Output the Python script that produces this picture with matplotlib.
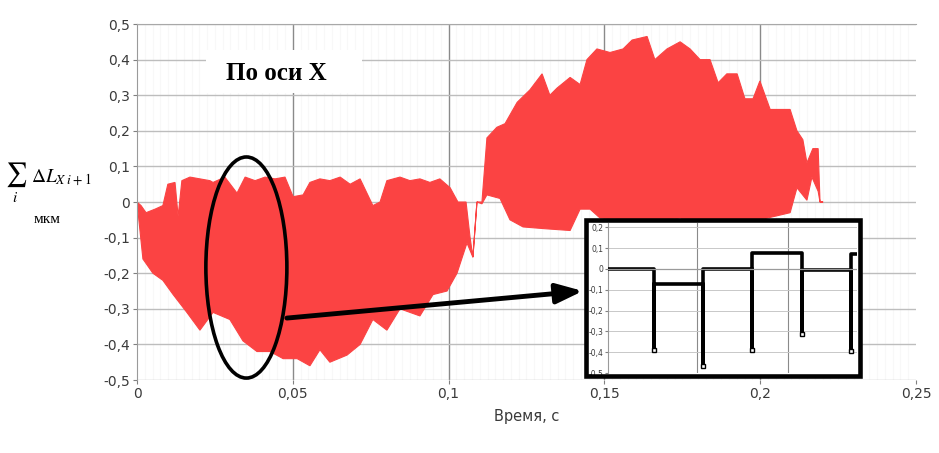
import numpy as np
import matplotlib
matplotlib.use("Agg")
import matplotlib.pyplot as plt
from matplotlib.patches import Ellipse, Rectangle

plt.rcParams['mathtext.fontset'] = 'stix'

# огибающие сигнала (время, с -> мкм)
time_upper = [0.0, 0.0013, 0.0029, 0.0058, 0.0083, 0.0099, 0.0122, 0.0132, 0.0144, 0.0170,
              0.0202, 0.0234, 0.0244, 0.0282, 0.0321, 0.0347, 0.0379, 0.0411, 0.0443, 0.0475,
              0.0501, 0.0533, 0.0555, 0.0587, 0.0619, 0.0652, 0.0684, 0.0716, 0.0757, 0.0780,
              0.0802, 0.0844, 0.0876, 0.0908, 0.0940, 0.0972, 0.1005, 0.1030, 0.1056, 0.1069,
              0.1078, 0.1091, 0.1107, 0.1123, 0.1155, 0.1181, 0.1220, 0.1261, 0.1300, 0.1325,
              0.1348, 0.1390, 0.1422, 0.1444, 0.1476, 0.1518, 0.1560, 0.1589, 0.1637, 0.1662,
              0.1701, 0.1743, 0.1775, 0.1807, 0.1839, 0.1865, 0.1893, 0.1926, 0.1951, 0.1977,
              0.1999, 0.2032, 0.2096, 0.2118, 0.2137, 0.2150, 0.2169, 0.2186, 0.2192, 0.2202]
upper = [0.0, -0.01, -0.03, -0.02, -0.01, 0.05, 0.055, -0.04, 0.06, 0.07,
         0.065, 0.06, 0.055, 0.07, 0.025, 0.07, 0.06, 0.07, 0.065, 0.07,
         0.015, 0.02, 0.055, 0.065, 0.06, 0.07, 0.05, 0.065, -0.01, 0.0,
         0.06, 0.07, 0.06, 0.065, 0.055, 0.065, 0.04, 0.0, 0.0, -0.10,
         -0.155, 0.0, 0.0, 0.18, 0.21, 0.22, 0.28, 0.315, 0.36, 0.30,
         0.32, 0.35, 0.33, 0.40, 0.43, 0.42, 0.43, 0.455, 0.465, 0.40,
         0.43, 0.45, 0.43, 0.40, 0.40, 0.335, 0.36, 0.36, 0.29, 0.29,
         0.34, 0.26, 0.26, 0.20, 0.175, 0.11, 0.15, 0.15, 0.0, 0.0]

time_lower = [0.0, 0.0019, 0.0051, 0.0083, 0.0116, 0.0160, 0.0202, 0.0244, 0.0298, 0.0340,
              0.0385, 0.0427, 0.0469, 0.0514, 0.0555, 0.0587, 0.0619, 0.0674, 0.0716, 0.0757,
              0.0802, 0.0844, 0.0908, 0.0950, 0.0995, 0.1027, 0.1059, 0.1078, 0.1091, 0.1107,
              0.1123, 0.1165, 0.1197, 0.1239, 0.1309, 0.1390, 0.1422, 0.1454, 0.1486, 0.1582,
              0.1701, 0.1743, 0.1807, 0.1999, 0.2096, 0.2118, 0.2150, 0.2166, 0.2186, 0.2192,
              0.2202]
lower = [0.0, -0.16, -0.20, -0.22, -0.26, -0.31, -0.36, -0.31, -0.33, -0.39,
         -0.42, -0.42, -0.44, -0.44, -0.46, -0.415, -0.45, -0.43, -0.40, -0.33,
         -0.36, -0.30, -0.32, -0.26, -0.25, -0.20, -0.115, -0.155, 0.0, -0.005,
         0.02, 0.01, -0.05, -0.07, -0.075, -0.08, -0.02, -0.02, -0.045, -0.05,
         -0.05, -0.045, -0.06, -0.05, -0.03, 0.04, 0.005, 0.07, 0.03, 0.0,
         0.0]

x_ticks = [0, 0.05, 0.1, 0.15, 0.2, 0.25]
x_labels = ["0", "0,05", "0,1", "0,15", "0,2", "0,25"]
y_ticks = [0.5, 0.4, 0.3, 0.2, 0.1, 0, -0.1, -0.2, -0.3, -0.4, -0.5]
y_labels = ["0,5", "0,4", "0,3", "0,2", "0,1", "0", "-0,1", "-0,2", "-0,3", "-0,4", "-0,5"]

# увеличенный фрагмент: уровни ступенек и выбросы
levels = [0.0, -0.075, -0.003, 0.077, -0.006, 0.072]
spikes = [-0.39, -0.466, -0.39, -0.315, -0.395]
ins_y_ticks = [0.2, 0.1, 0, -0.1, -0.2, -0.3, -0.4, -0.5]
ins_y_labels = ["0,2", "0,1", "0", "-0,1", "-0,2", "-0,3", "-0,4", "-0,5"]

fig = plt.figure(figsize=(9.39, 4.53), dpi=100)
ax = fig.add_axes([0.1459, 0.1611, 0.8296, 0.7859])

red = '#fb4343'
ax.fill(np.r_[time_upper, time_lower[::-1]], np.r_[upper, lower[::-1]],
        color=red, lw=0.8, zorder=2)

ax.set_xlim(0, 0.25)
ax.set_ylim(-0.5, 0.5)
ax.set_xticks(x_ticks)
ax.set_xticklabels(x_labels)
ax.set_yticks(y_ticks)
ax.set_yticklabels(y_labels)
ax.set_xticks(np.arange(0, 0.25, 0.0025), minor=True)
ax.set_axisbelow(True)
ax.grid(axis='y', color='#bdbdbd', lw=1.0)
ax.grid(axis='x', color='#8a8a8a', lw=1.0)
ax.grid(axis='x', which='minor', color='#f8f8f8', lw=0.8)
ax.xaxis.get_gridlines()[-1].set_visible(False)
ax.xaxis.get_gridlines()[0].set_visible(False)
for s in ['right', 'bottom']:
    ax.spines[s].set_visible(False)
ax.spines['left'].set_color('#9a9a9a')
ax.spines['top'].set_color('#a8a8a8')
ax.tick_params(which='major', length=3, color='#808080', labelsize=10, labelcolor='#3a3a3a', pad=2)
ax.tick_params(which='minor', length=0)
ax.set_xlabel("Время, с", fontsize=10.5, color='#3a3a3a', labelpad=6)

# подпись "По оси X" на белой плашке
ax.add_patch(Rectangle((0.0886, 0.806), 0.2003, 0.1208, transform=ax.transAxes,
                       facecolor='white', edgecolor='none', zorder=1))
ax.text(0.1784, 0.861, "По оси X", transform=ax.transAxes, ha='center', va='center',
        fontsize=18, fontweight='bold', family='Liberation Serif', zorder=3)

# эллипс и стрелка
ax.add_patch(Ellipse((0.0351, -0.184), 0.026, 0.621, fill=False, ec='black', lw=2.6,
                     zorder=4, clip_on=False))
ax.annotate("", xy=(0.1431, -0.25), xytext=(0.0481, -0.326),
            arrowprops=dict(arrowstyle='-|>,head_length=0.8,head_width=0.3', color='black',
                            lw=3.5, shrinkA=0, shrinkB=0, mutation_scale=20),
            zorder=4, annotation_clip=False)

# подпись оси Y: сумма, индекс, приращение и единицы
fig.text(16.5 / 939, 1 - 175 / 453, r'$\sum$', fontsize=17, ha='center', va='center')
fig.text(15.5 / 939, 1 - 197 / 453, r'$i$', fontsize=11, ha='center', va='center')
fig.text(31 / 939, 1 - 183 / 453, r'$\Delta L_{X\;i+1}$', fontsize=14,
         ha='left', va='baseline')
fig.text(47 / 939, 1 - 219.5 / 453, "мкм", fontsize=11, family='Liberation Serif',
         ha='center', va='center')

# врезка
fig.add_artist(Rectangle((0.6241, 0.1700), 0.2918, 0.3444, transform=fig.transFigure,
                         facecolor='white', edgecolor='none', zorder=0.5))
ins = fig.add_axes([0.6475, 0.1766, 0.2652, 0.3311], zorder=1)
xs_step = [0.07]
ys_step = [levels[0]]
for k, s in enumerate(spikes):
    xs_step += [k + 1, k + 1, k + 1]
    ys_step += [levels[k], s, levels[k + 1]]
xs_step.append(5.12)
ys_step.append(levels[-1])
ins.plot(xs_step, ys_step, color='black', lw=2.6, zorder=3)
ins.plot(range(1, len(spikes) + 1), spikes, 's', mfc='white', mec='black', ms=3.5,
         mew=1.0, zorder=4)
ins.axhline(0, color='#9a9a9a', lw=0.9, zorder=3.5)
ins.set_xlim(0.07, 5.12)
ins.set_ylim(-0.5, 0.22)
ins.set_yticks(ins_y_ticks)
ins.set_yticklabels(ins_y_labels)
ins.set_xticks([1.88, 3.72])
ins.set_xticklabels([])
ins.set_axisbelow(True)
ins.grid(axis='y', color='#c8c8c8', lw=0.7)
ins.grid(axis='x', color='#8a8a8a', lw=0.8)
for s in ['right', 'bottom', 'top']:
    ins.spines[s].set_visible(False)
ins.spines['left'].set_color('#9a9a9a')
ins.tick_params(axis='x', length=0)
ins.tick_params(axis='y', length=2, color='#808080', labelsize=5.5, labelcolor='#3a3a3a', pad=1)
fig.add_artist(Rectangle((0.6241, 0.1700), 0.2918, 0.3444, transform=fig.transFigure,
                         fill=False, edgecolor='black', lw=3.3, zorder=2))

fig.savefig("out.png", dpi=100)
